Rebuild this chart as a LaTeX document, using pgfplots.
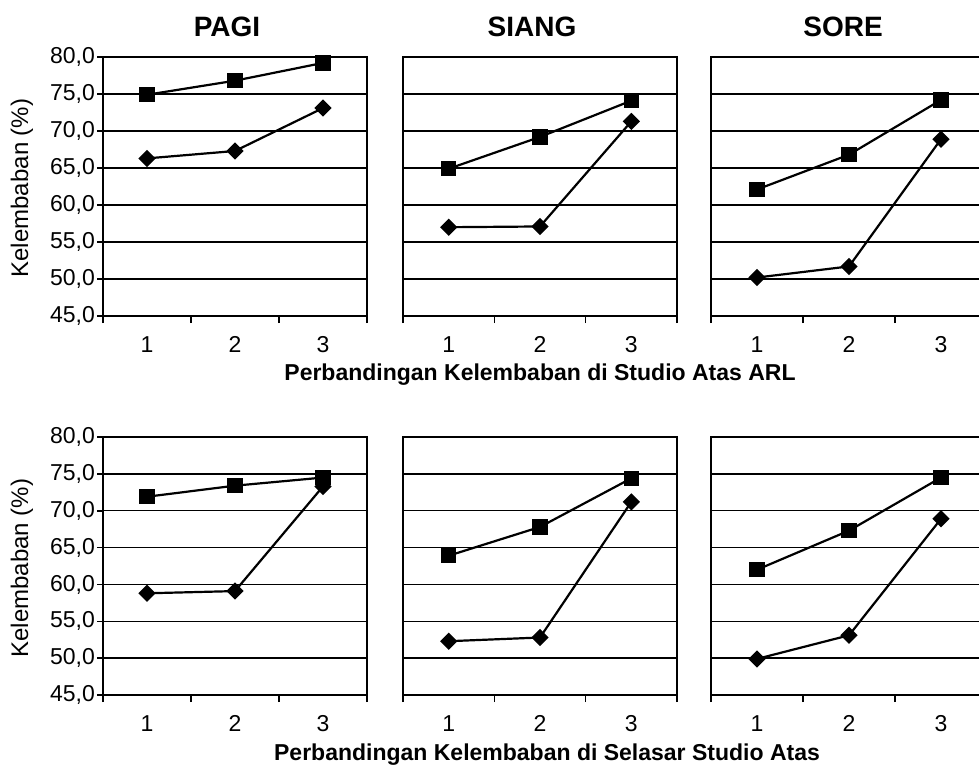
\documentclass[border=0pt]{standalone}
\usepackage{pgfplots}
\pgfplotsset{compat=1.18}
\usepackage{fontspec}
\setmainfont{Liberation Sans}

\pgfplotsset{
 panel/.style={
  scale only axis, xmin=0.5, xmax=3.5, ymin=45, ymax=80,
  xtick={1,2,3}, ytick={45,50,...,80},
  tick pos=left, tick align=outside, major tick length=0pt,
  extra x ticks={0.5,1.5,2.5,3.5}, extra x tick labels={},
  extra x tick style={major tick length=3.5pt},
  tick style={black, line width=0.8pt},
  ymajorgrids, grid style={black, line width=0.75pt},
  axis line style={black, line width=1.1pt},
  ticklabel style={font=\fontsize{11.5}{13}\selectfont},
  /pgf/number format/assume math mode=true,
  xticklabel style={anchor=north, text height=8.5pt, text depth=0pt, yshift=-6pt},
  yticklabel style={xshift=-0.5pt, /pgf/number format/.cd, fixed, fixed zerofill, precision=1, use comma, /tikz/.cd},
 },
 leftpanel/.style={panel, extra y ticks={45,50,...,80}, extra y tick labels={}, extra y tick style={major tick length=3pt}},
 otherpanel/.style={panel, yticklabels={}},
 sq/.style={black, line width=1.1pt, mark=square*, mark size=3.3pt, mark options={solid}},
 di/.style={black, line width=1.1pt, mark=square*, mark size=2.5pt, mark options={solid, rotate=45}},
}

\begin{document}
\begin{tikzpicture}
% ---------- top row ----------
\begin{axis}[leftpanel, at={(103*0.5pt,-316*0.5pt)}, anchor=south west, width=132pt, height=129.5pt]
\addplot[sq] coordinates {(1,74.9) (2,76.8) (3,79.2)};
\addplot[di] coordinates {(1,66.3) (2,67.3) (3,73.1)};
\end{axis}
\begin{axis}[otherpanel, at={(403*0.5pt,-316*0.5pt)}, anchor=south west, width=137pt, height=129.5pt]
\addplot[sq] coordinates {(1,64.9) (2,69.2) (3,74.1)};
\addplot[di] coordinates {(1,57.0) (2,57.1) (3,71.3)};
\end{axis}
\begin{axis}[otherpanel, at={(711*0.5pt,-316*0.5pt)}, anchor=south west, width=138pt, height=129.5pt]
\addplot[sq] coordinates {(1,62.1) (2,66.8) (3,74.2)};
\addplot[di] coordinates {(1,50.2) (2,51.7) (3,68.9)};
\end{axis}
% ---------- bottom row ----------
\begin{axis}[leftpanel, at={(103*0.5pt,-695*0.5pt)}, anchor=south west, width=132pt, height=129pt]
\addplot[sq] coordinates {(1,71.9) (2,73.4) (3,74.5)};
\addplot[di] coordinates {(1,58.8) (2,59.1) (3,73.3)};
\end{axis}
\begin{axis}[otherpanel, at={(403*0.5pt,-695*0.5pt)}, anchor=south west, width=137pt, height=129pt]
\addplot[sq] coordinates {(1,63.9) (2,67.8) (3,74.4)};
\addplot[di] coordinates {(1,52.3) (2,52.8) (3,71.2)};
\end{axis}
\begin{axis}[otherpanel, at={(711*0.5pt,-695*0.5pt)}, anchor=south west, width=138pt, height=129pt]
\addplot[sq] coordinates {(1,62.0) (2,67.3) (3,74.5)};
\addplot[di] coordinates {(1,49.9) (2,53.1) (3,68.9)};
\end{axis}
% ---------- texts ----------
\node[font=\bfseries\fontsize{14}{16}\selectfont] at (227*0.5pt,-27*0.5pt) {PAGI};
\node[font=\bfseries\fontsize{14}{16}\selectfont] at (532*0.5pt,-27*0.5pt) {SIANG};
\node[font=\bfseries\fontsize{14}{16}\selectfont] at (843*0.5pt,-27*0.5pt) {SORE};
\node[font=\fontsize{12}{14}\selectfont, rotate=90] at (22*0.5pt,-188*0.5pt) {Kelembaban (\%)};
\node[font=\fontsize{12}{14}\selectfont, rotate=90] at (22*0.5pt,-568*0.5pt) {Kelembaban (\%)};
\node[font=\bfseries\fontsize{11.5}{13}\selectfont] at (540*0.5pt,-375*0.5pt) {Perbandingan Kelembaban di Studio Atas ARL};
\node[font=\bfseries\fontsize{11.5}{13}\selectfont] at (547*0.5pt,-755*0.5pt) {Perbandingan Kelembaban di Selasar Studio Atas};
\pgfresetboundingbox
\useasboundingbox (0,0) rectangle (979*0.5pt,-767*0.5pt);
\end{tikzpicture}
\end{document}
